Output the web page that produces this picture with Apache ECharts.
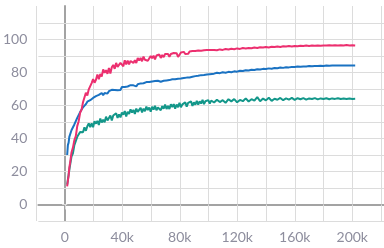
<!DOCTYPE html>
<html><head><meta charset="utf-8">
<script src="https://cdn.jsdelivr.net/npm/echarts@6/dist/echarts.min.js"></script>
<style>html,body{margin:0;padding:0;background:#fff}#c{width:384px;height:248px}</style>
</head><body><div id="c"></div>
<script>
// x positions in thousands of steps
const steps = [0,0.5,1,1.5,2,3,4,5,6,7,8,9,10,
11,12,13,14,15,16,17,18,19,20,21,22,23,24,25,26,27,28,29,30,31,32,33,34,35,36,37,38,39,40,
41,42,43,44,45,46,47,48,49,50,51,52,53,54,55,56,57,58,59,60,61,62,63,64,65,66,67,68,69,70,
71,72,73,74,75,76,77,78,79,80,81,82,83,84,85,86,87,88,89,90,91,92,93,94,95,96,97,98,99,100,
102,104,106,108,110,112,114,116,118,120,122,124,126,128,130,132,134,136,138,140,
142,144,146,148,150,152,154,156,158,160,162,164,166,168,170,172,174,176,178,180,182,184,186,188,190,192,194,196,198,200];

const pink = [11,14.5,17.5,22.5,25,31.5,34.5,39,41.5,47.5,50.5,55.5,57.5,
62,62.2,67.7,66.1,69.8,68.6,73.6,76,73.8,75.6,78.8,75.9,79.1,77.5,81.9,79.8,81.4,79.2,82.8,79.4,83.2,84.6,82.2,85.8,83.4,82.3,85.8,85.1,83.8,87.4,
84.9,87.2,84.9,87,88.2,85.8,87.4,85.8,88.8,87.3,88.8,86.8,89.6,87.7,88.7,87.1,86.6,90,88.6,90.2,88,90.3,89.4,90.9,88.8,90.6,89.3,91.2,90,91.2,
89.5,91.2,90.2,91.8,90.6,91.7,89.4,90.4,92.1,91.1,92.5,91.2,92.3,91.3,92.7,91.9,93,91.8,93,92.2,93.3,92.2,93.2,92.3,93.5,92.7,93.6,92.8,93.6,93.1,
93.7,93.5,94,93.7,94.2,93.9,94.4,94.1,94.6,94.3,94.8,94.6,94.9,94.7,95.2,94.9,95.3,95.1,95.5,95.2,
95.6,95.4,95.8,95.5,95.9,95.7,96,95.8,96.1,95.9,96.2,96,96.3,96.1,96.3,96.2,96.4,96.2,96.4,96.3,96.5,96.3,96.5,96.4,96.5,96.4,96.6,96.4,96.5,96.4];

const blue = [30,36,37.5,41,41.5,45,46,48.5,49.5,52.5,53.5,56,56.5,
58.9,58.8,60.8,62.3,61.8,63.2,62.7,64.6,64.2,65.7,64.9,66.4,66.1,67.6,66.3,67.6,68.2,67.2,68.7,68.2,69.5,68.4,69.4,70.2,69.2,70.3,69.4,71.2,70.3,71.2,
70.3,71.5,71,72.3,71.3,72.2,72.7,71.6,72.9,72.4,73.4,72.5,73.5,72.9,74.2,73.4,74.2,73.3,74.6,73.9,74.8,74,75,75.3,74.4,75.5,75,75.9,75.2,76.1,
75.4,76.4,75.9,76.7,75.9,76.7,76.2,77,76.3,77.1,76.6,77.4,76.9,77.5,77,77.9,77.4,78.1,77.8,78.4,78,78.7,78.4,79,78.5,79.2,78.8,79.4,79,79.5,
79.3,79.8,79.6,80.1,79.9,80.4,80.2,80.7,80.5,81.1,80.9,81.4,81.2,81.7,81.5,82,81.8,82.2,82.1,82.5,
82.3,82.7,82.6,83,82.8,83.2,83.1,83.4,83.3,83.6,83.5,83.7,83.7,83.9,83.8,84,83.9,84.1,84,84.2,84.1,84.2,84.2,84.3,84.2,84.3,84.2,84.3,84.3,84.3];

const teal = [12,15,16,21,22,29,31,36,37,41,41,44,43,
43.8,46.8,44.7,47.4,49.2,46.8,49.2,46.8,50.5,49,50.7,48.2,52.1,49.7,51.4,49.8,53.2,50.9,52.4,53.9,51,53.9,52.7,55.3,52.5,54.6,52.8,55.7,54.4,56.6,
53.4,56.2,54.8,57.7,55.7,57.3,54.9,58.1,56.1,57.3,58.6,55.8,58.1,56.5,59.3,57.2,58.8,56.2,59.3,57.5,59.8,57.1,58.8,59.9,57.1,59.6,58,60.6,57.9,59.7,
57.9,60.8,59.1,60.8,58.1,60.6,59,61.6,58.9,60.7,59.7,61.9,59.3,61.6,60.4,62.5,59.7,61.9,60.5,62.8,60.6,62.5,61.2,63.4,60.8,62.6,61.4,63.3,61.1,63,
61.8,63.5,62.1,63.2,61.6,63.8,62.5,63.9,61.9,63.4,62.6,64.3,62.4,63.8,62.9,65.1,62.6,64.2,63.1,64.7,
62.8,64.1,63.5,64.6,63.2,64.3,63.6,64.6,63.4,64.4,63.8,64.5,63.6,64.3,63.9,64.5,63.7,64.3,63.9,64.4,63.8,64.3,64,64.4,63.9,64.2,63.9,64.3,64,64.1];

const xLabels = [0,40000,80000,120000,160000,200000];
const yLabels = [0,20,40,60,80,100];

const gridColor = '#dcdcdc';
const zeroColor = '#a3a3a3';
const labelStyle = {color:'#8e8e9e', fontFamily:'Lato', fontSize:14};

function pairs(vals){ return steps.map((s,i)=>[s*1000, vals[i]]); }

const chart = echarts.init(document.getElementById('c'), null, {renderer:'canvas'});
chart.setOption({
  animation:false,
  grid:[
    {left:36,right:0,top:23,bottom:27},
    {left:36,right:0,top:6,bottom:27}
  ],
  xAxis:[
    {gridIndex:0,type:'value',min:-20000,max:220000,interval:20000,
     axisLine:{show:true,onZero:true,lineStyle:{color:zeroColor,width:2}},
     axisTick:{show:false},axisLabel:{show:false},splitLine:{show:false}},
    {gridIndex:1,type:'value',min:-20000,max:220000,interval:20000,
     axisLine:{show:false},
     axisTick:{show:true,length:5,lineStyle:{color:gridColor,width:1}},
     axisLabel:Object.assign({margin:9,formatter:v=>xLabels.indexOf(v)>=0?(v===0?'0':(v/1000)+'k'):''},labelStyle),
     splitLine:{show:true,lineStyle:{color:gridColor,width:1}}}
  ],
  yAxis:[
    {gridIndex:0,type:'value',min:-10,max:110,interval:10,
     axisLine:{show:false},
     axisTick:{show:true,length:5,lineStyle:{color:gridColor,width:1}},
     axisLabel:Object.assign({margin:11,formatter:v=>yLabels.indexOf(v)>=0?String(v):''},labelStyle),
     splitLine:{show:true,lineStyle:{color:gridColor,width:1}}},
    {gridIndex:1,type:'value',min:-10,max:120,interval:10,
     axisLine:{show:true,onZero:true,lineStyle:{color:zeroColor,width:2}},
     axisTick:{show:false},axisLabel:{show:false},splitLine:{show:false}}
  ],
  series:[
    {type:'line',xAxisIndex:0,yAxisIndex:0,data:pairs(teal),showSymbol:false,lineStyle:{color:'#13978a',width:2},z:3},
    {type:'line',xAxisIndex:0,yAxisIndex:0,data:pairs(blue),showSymbol:false,lineStyle:{color:'#1a72c2',width:2},z:4},
    {type:'line',xAxisIndex:0,yAxisIndex:0,data:pairs(pink),showSymbol:false,lineStyle:{color:'#ec2f6f',width:2},z:5}
  ]
});
</script></body></html>
